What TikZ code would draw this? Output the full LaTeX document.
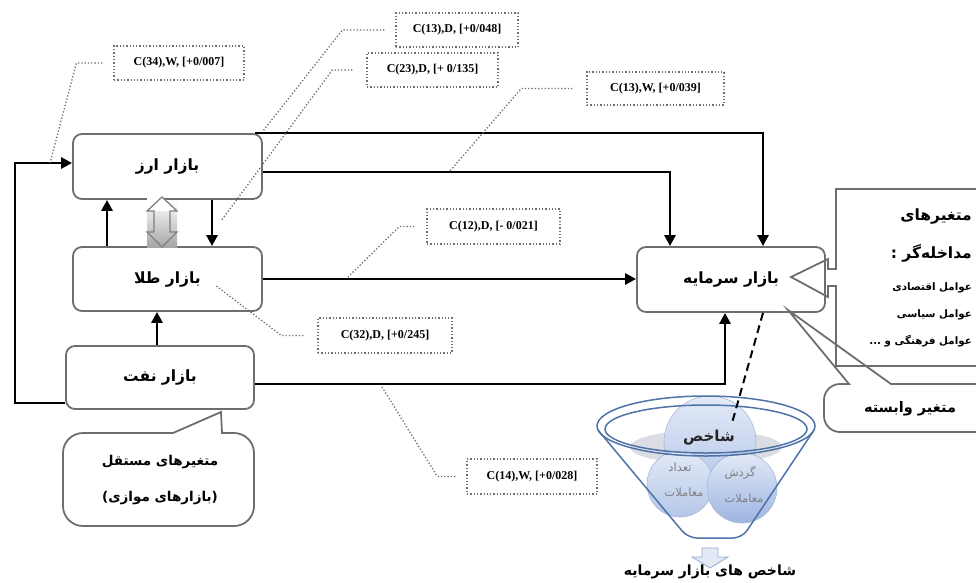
\documentclass[tikz,border=0pt]{standalone}
\usepackage{fontspec}
\setmainfont{Liberation Serif}
\newfontfamily\fa[Script=Arabic]{DejaVu Sans}
\TeXXeTstate=1
\usetikzlibrary{arrows.meta,calc}
\definecolor{boxgray}{HTML}{6E6E6E}
\definecolor{dotgray}{HTML}{707070}
\definecolor{fblue}{HTML}{4F73A8}
\definecolor{cbluetop}{HTML}{E3EAF7}
\definecolor{cbluebot}{HTML}{B4C6E8}
\definecolor{cbluedeep}{HTML}{9DB4E2}
\definecolor{shadowgray}{HTML}{DADDE3}
\newcommand\rl[1]{\beginR #1\endR}
\tikzset{
  market/.style={draw=boxgray, line width=1.8pt, rounded corners=9pt, fill=white, minimum width=189pt, minimum height=65pt, font=\fa\bfseries\fontsize{15.5}{18}\selectfont, inner sep=0pt},
  flow/.style={line width=2.7pt, -{Triangle[length=11pt,width=11pt]}},
  lab/.style={draw=dotgray, dotted, line width=1.3pt, font=\bfseries\fontsize{12}{14}\selectfont, minimum height=34pt, inner sep=0pt},
  leader/.style={draw=dotgray, dotted, line width=1.3pt},
  callout/.style={draw=boxgray, line width=1.8pt},
  funnel/.style={draw=fblue, line width=1.5pt},
  circ/.style={draw=cbluebot!80!gray, line width=0.6pt, top color=cbluetop, bottom color=cbluebot},
  fatext/.style={font=\fa\bfseries\fontsize{13.5}{16}\selectfont, inner sep=0pt},
  fasmall/.style={font=\fa\bfseries\fontsize{10.3}{12}\selectfont, inner sep=0pt},
  circtext/.style={font=\fa\fontsize{11.5}{13}\selectfont, text=gray, inner sep=0pt},
}
\begin{document}
\begin{tikzpicture}[x=1pt,y=-1pt]
\useasboundingbox (0,0) rectangle (976,582);

% ---- market boxes
\node[market] (arz) at (167.5,166.5) {\rl{بازار ارز}};
\node[market, minimum height=64pt] (tala) at (167.5,279) {\rl{بازار طلا}};
\node[market, minimum width=188pt, minimum height=63pt] (naft) at (160,377.5) {\rl{بازار نفت}};
\node[market, minimum width=188pt] (sarmaye) at (731,279.5) {\rl{بازار سرمایه}};

% ---- flows
\draw[flow] ([xshift=-8pt]arz.north east) -| ([xshift=32pt]sarmaye.north);
\draw[flow] ([yshift=-5.5pt]arz.east) -| ([xshift=-61pt]sarmaye.north);
\draw[flow] (tala.east) -- (sarmaye.west |- tala.east);
\draw[flow] ([yshift=-6.5pt]naft.east) -| ([xshift=-6pt]sarmaye.south);
\draw[flow] ([yshift=-25.5pt]naft.west) -- ++(-50,0) |- ([yshift=3.5pt]arz.west);
\draw[flow] ([xshift=-60.5pt]tala.north) -- ([xshift=-60.5pt]arz.south);
\draw[flow] ([xshift=44.5pt]arz.south) -- ([xshift=44.5pt]tala.north);
\draw[flow] ([xshift=-3pt]naft.north) -- ([xshift=-10.5pt]tala.south);

% ---- hollow double arrow between arz and tala
\shade[top color=white, bottom color=gray!70] (147,200) rectangle (177,247);
\fill[white] (147,198) -- (162,197) -- (177,211) -- (147,211) -- cycle;
\draw[draw=gray, line width=1.3pt, line join=miter]
  (162,197) -- (177,211) -- (170,211) -- (170,232) -- (177,232) -- (162,247)
  -- (147,232) -- (154,232) -- (154,211) -- (147,211) -- cycle;

% ---- coefficient labels
\node[lab, minimum width=130pt] (l34) at (179,63) {C(34),W, [+0/007]};
\node[lab, minimum width=122pt] (l13d) at (457,30) {C(13),D, [+0/048]};
\node[lab, minimum width=131pt] (l23) at (432.5,70) {C(23),D, [+ 0/135]};
\node[lab, minimum width=137pt, minimum height=33pt] (l13w) at (655.5,88.5) {C(13),W, [+0/039]};
\node[lab, minimum width=133pt, minimum height=35pt] (l12) at (493.5,226.5) {C(12),D, [- 0/021]};
\node[lab, minimum width=134pt, minimum height=35pt] (l32) at (385,335.5) {C(32),D, [+0/245]};
\node[lab, minimum width=130pt, minimum height=35pt] (l14) at (532,476.5) {C(14),W, [+0/028]};

\coordinate (p34) at (50,163);
\coordinate (p13d) at (263,131);
\coordinate (p23) at (221,221);
\coordinate (p13w) at (449,172);
\coordinate (p12) at (347,278);
\coordinate (p32) at (215,285);
\coordinate (p14) at (382,387);
\draw[leader] ([xshift=-11pt]l34.west) -- ++(-26,0) -- (p34);
\draw[leader] ([xshift=-11pt]l13d.west) -- ++(-42,0) -- (p13d);
\draw[leader] ([xshift=-14pt]l23.west) -- ++(-20,0) -- (p23);
\draw[leader] ([xshift=-14pt]l13w.west) -- ++(-51,0) -- (p13w);
\draw[leader] ([xshift=-12pt]l12.west) -- ++(-15,0) -- (p12);
\draw[leader] ([xshift=-14pt]l32.west) -- ++(-22,0) -- (p32);
\draw[leader] ([xshift=-11pt]l14.west) -- ++(-18,0) -- (p14);

% ---- independent variables callout
\draw[callout, fill=white] (173,433) -- (221,412) -- (222,433) [rounded corners=20pt] -- (254,433) -- (254,526) -- (63,526) -- (63,433) [sharp corners] -- cycle;
\node[fatext] (ind1) at (160,462) {\rl{متغیرهای مستقل}};
\node[fatext] (ind2) at (160,498) {\rl{(بازارهای موازی)}};

% ---- intervening variables callout
\draw[callout] (980,189) -- (836,189) -- (836,269) -- (828,269) -- (828,259) -- (791,277)
  -- (828,297) -- (828,286) -- (836,286) -- (836,366) -- (980,366);
\node[fatext, font=\fa\bfseries\fontsize{15.5}{18}\selectfont, anchor=east] (int1) at (972,216) {\rl{متغیرهای}};
\node[fatext, font=\fa\bfseries\fontsize{15.5}{18}\selectfont, anchor=east] (int2) at (972,253) {\rl{مداخله‌گر :}};
\node[fasmall, anchor=east] (int3) at (972,288) {\rl{عوامل اقتصادی}};
\node[fasmall, anchor=east] (int4) at (972,315) {\rl{عوامل سیاسی}};
\node[fasmall, anchor=east] (int5) at (972,341) {\rl{عوامل فرهنگی و ...}};

% ---- dependent variable callout
\draw[callout] (980,384) -- (891,384) -- (788,310) -- (849,384) [rounded corners=16pt] -- (824,384) -- (824,432) -- (980,432);
\node[fatext, font=\fa\bfseries\fontsize{14.5}{18}\selectfont] (dep) at (910,409) {\rl{متغیر وابسته}};

% ---- funnel of indices
\fill[shadowgray] (706,447) ellipse [x radius=76, y radius=17];
\draw[circ] (710,442) circle [radius=46];
\draw[circ] (680,484) circle [radius=33];
\draw[circ, bottom color=cbluedeep] (742,488) circle [radius=35];
\node[font=\fa\bfseries\fontsize{15}{18}\selectfont, text=black!85] (shakhes) at (709,438) {\rl{شاخص}};
\node[circtext] (t1) at (680,467) {\rl{تعداد}};
\node[circtext] (t2) at (684,492) {\rl{معاملات}};
\node[circtext] (g1) at (740,473) {\rl{گردش}};
\node[circtext] (g2) at (744,498) {\rl{معاملات}};
\draw[funnel] (706,426) ellipse [x radius=109, y radius=30];
\draw[funnel] (706,429) ellipse [x radius=101, y radius=24];
\draw[funnel, rounded corners=9pt] (598,430) -- (688,538) -- (742,538) -- (814,430);

\coordinate (dashend) at (732,423);
\draw[line width=2pt, dash pattern=on 8pt off 5pt] ([xshift=32pt]sarmaye.south) -- (dashend);

% ---- bottom arrow and caption
\draw[draw=fblue!60, line width=0.8pt, fill=cbluetop] (702,548) -- (718,548) -- (718,557) -- (728,557) -- (710,568) -- (692,557) -- (702,557) -- cycle;
\node[fatext, font=\fa\bfseries\fontsize{14}{16}\selectfont] (caption) at (710,572) {\rl{شاخص های بازار سرمایه}};
\end{tikzpicture}
\end{document}
